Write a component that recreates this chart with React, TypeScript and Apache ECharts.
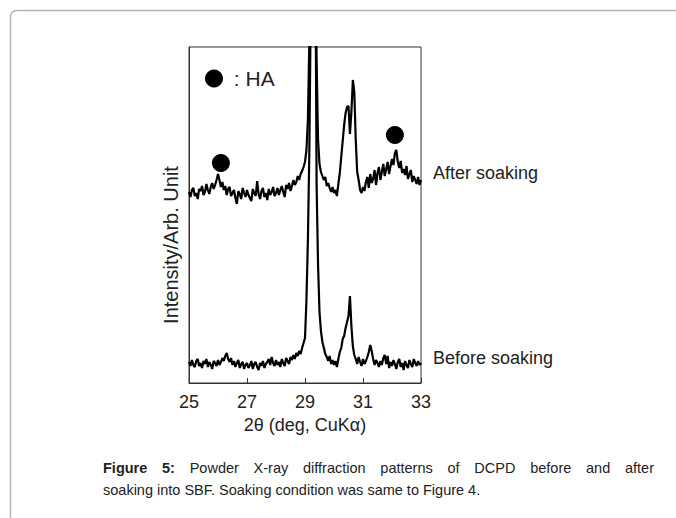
import React, { useEffect, useRef } from "react";
import * as echarts from "echarts";

// 2θ scan positions (deg)
const twoTheta = [
  25.0, 25.05, 25.1, 25.15, 25.2, 25.25, 25.3, 25.35, 25.4, 25.45, 25.5, 25.55, 25.6, 25.65, 25.7, 25.75, 25.8, 25.85, 25.9, 25.95,
  26.0, 26.05, 26.1, 26.15, 26.2, 26.25, 26.3, 26.35, 26.4, 26.45, 26.5, 26.55, 26.6, 26.65, 26.7, 26.75, 26.8, 26.85, 26.9, 26.95,
  27.0, 27.05, 27.1, 27.15, 27.2, 27.25, 27.3, 27.35, 27.4, 27.45, 27.5, 27.55, 27.6, 27.65, 27.7, 27.75, 27.8, 27.85, 27.9, 27.95,
  28.0, 28.05, 28.1, 28.15, 28.2, 28.25, 28.3, 28.35, 28.4, 28.45, 28.5, 28.55, 28.6, 28.65, 28.7, 28.75, 28.8, 28.85, 28.9, 28.95,
  29.0, 29.05, 29.1, 29.15, 29.2, 29.25, 29.3, 29.35, 29.4, 29.45, 29.5, 29.55, 29.6, 29.65, 29.7, 29.75, 29.8, 29.85, 29.9, 29.95,
  30.0, 30.05, 30.1, 30.15, 30.2, 30.25, 30.3, 30.35, 30.4, 30.45, 30.5, 30.55, 30.6, 30.65, 30.7, 30.75, 30.8, 30.85, 30.9, 30.95,
  31.0, 31.05, 31.1, 31.15, 31.2, 31.25, 31.3, 31.35, 31.4, 31.45, 31.5, 31.55, 31.6, 31.65, 31.7, 31.75, 31.8, 31.85, 31.9, 31.95,
  32.0, 32.05, 32.1, 32.15, 32.2, 32.25, 32.3, 32.35, 32.4, 32.45, 32.5, 32.55, 32.6, 32.65, 32.7, 32.75, 32.8, 32.85, 32.9, 32.95,
  33.0,
];

// Intensity (arb. unit) after soaking into SBF
const afterSoaking = [
  191, 186, 193, 195, 187, 190, 184, 194, 192, 197, 188, 191, 199, 193, 189, 196, 200, 194, 198, 203,
  209, 203, 196, 201, 193, 197, 188, 194, 196, 187, 190, 193, 185, 179, 192, 189, 184, 195, 190, 186,
  193, 188, 185, 182, 194, 190, 187, 202, 189, 184, 192, 195, 186, 190, 183, 194, 188, 191, 196, 187,
  190, 195, 188, 193, 197, 191, 186, 198, 194, 200, 192, 197, 203, 198, 201, 207, 203, 209, 212, 216,
  221, 233, 263, 343, 483, 633, 633, 463, 323, 243, 219, 211, 207, 203, 206, 197, 200, 195, 191, 196,
  190, 193, 187, 199, 210, 226, 242, 258, 270, 276, 277, 249, 271, 303, 291, 243, 211, 203, 193, 190,
  196, 192, 201, 206, 195, 209, 200, 204, 213, 198, 210, 216, 203, 211, 219, 207, 214, 221, 209, 217,
  224, 218, 230, 233, 221, 215, 222, 210, 214, 208, 217, 204, 209, 213, 201, 207, 203, 199, 206, 198,
  203,
];

// Intensity (arb. unit) before soaking
const beforeSoaking = [
  21, 17, 23, 18, 16, 22, 24, 17, 20, 15, 22, 19, 24, 16, 21, 18, 14, 22, 20, 17,
  23, 18, 21, 25, 22, 27, 30, 24, 21, 25, 18, 22, 16, 20, 23, 15, 19, 21, 14, 18,
  20, 15, 18, 22, 14, 19, 21, 16, 13, 20, 17, 22, 15, 19, 21, 24, 18, 26, 20, 17,
  23, 18, 21, 16, 24, 20, 17, 25, 22, 19, 26, 23, 28, 24, 30, 27, 32, 29, 35, 40,
  45, 83, 143, 233, 383, 683, 683, 483, 198, 118, 71, 52, 41, 35, 29, 26, 22, 27, 19, 23,
  18, 22, 16, 24, 31, 35, 44, 47, 55, 61, 67, 87, 57, 37, 28, 24, 19, 26, 21, 17,
  24, 19, 22, 26, 31, 38, 32, 24, 18, 23, 20, 16, 22, 18, 25, 28, 19, 27, 15, 21,
  17, 23, 19, 14, 21, 24, 16, 20, 13, 22, 18, 15, 23, 19, 16, 24, 20, 17, 22, 18,
  20,
];

// HA peak markers (2θ, intensity)
const haMarkers = [
  [26.1, 220],
  [32.1, 248],
];

const seriesNames = ["After soaking", "Before soaking"];
const xAxisTitle = "2θ (deg, CuKα)";
const yAxisTitle = "Intensity/Arb. Unit";

const captionLine1 = [
  { t: "Figure", b: true },
  { t: "5:", b: true },
  { t: "Powder", b: false },
  { t: "X-ray", b: false },
  { t: "diffraction", b: false },
  { t: "patterns", b: false },
  { t: "of", b: false },
  { t: "DCPD", b: false },
  { t: "before", b: false },
  { t: "and", b: false },
  { t: "after", b: false },
];
const captionLine2 = "soaking into SBF. Soaking condition was same to Figure 4.";

const FONT = '"Liberation Sans", Arial, sans-serif';

export default function App() {
  const ref = useRef<HTMLDivElement>(null);

  useEffect(() => {
    if (!ref.current) return;
    const chart = echarts.init(ref.current, null, { renderer: "svg" });

    const capSize = 14.5;
    const ctx = document.createElement("canvas").getContext("2d")!;
    const measure = (t: string, b: boolean) => {
      ctx.font = `${b ? "bold " : ""}${capSize}px "Liberation Sans"`;
      return ctx.measureText(t).width;
    };
    const capLeft = 103;
    const capRight = 654;
    const widths = captionLine1.map((w) => measure(w.t, w.b));
    const total = widths.reduce((a, b) => a + b, 0);
    const gap = (capRight - capLeft - total) / (captionLine1.length - 1);
    let cx = capLeft;
    const capTexts: any[] = captionLine1.map((w, i) => {
      const el = {
        type: "text",
        x: cx,
        y: 468,
        style: {
          text: w.t,
          font: `${w.b ? "bold " : ""}${capSize}px ${FONT}`,
          fill: "#222",
          verticalAlign: "middle",
          align: "left",
        },
      };
      cx += widths[i] + gap;
      return el;
    });
    capTexts.push({
      type: "text",
      x: capLeft,
      y: 490,
      style: {
        text: captionLine2,
        font: `${capSize}px ${FONT}`,
        fill: "#222",
        verticalAlign: "middle",
        align: "left",
      },
    });

    const lineSeries = (name: string, vals: number[], dy: number) => ({
      name,
      type: "line",
      data: twoTheta.map((t, i) => [t, vals[i]]),
      showSymbol: false,
      symbol: "none",
      clip: true,
      lineStyle: { color: "#000", width: 2.2 },
      itemStyle: { color: "#000" },
      endLabel: {
        show: true,
        formatter: "{a}",
        distance: 12,
        offset: [0, dy],
        fontSize: 18,
        fontFamily: FONT,
        color: "#222",
      },
      z: 2,
    });

    const option: any = {
      animation: false,
      backgroundColor: "#fff",
      textStyle: { fontFamily: FONT },
      grid: {
        left: 189,
        right: 255,
        top: 47,
        bottom: 135,
        show: true,
        borderColor: "#333",
        borderWidth: 1,
        containLabel: false,
      },
      legend: {
        data: [{ name: "HA", icon: "circle", itemStyle: { color: "#000", opacity: 1 } }],
        left: 205,
        top: 68,
        padding: 0,
        itemWidth: 18,
        itemHeight: 18,
        itemGap: 0,
        selectedMode: false,
        formatter: () => " : HA",
        textStyle: { fontSize: 21, color: "#222", fontFamily: FONT },
      },
      xAxis: {
        type: "value",
        min: 25,
        max: 33,
        interval: 2,
        name: xAxisTitle,
        nameLocation: "middle",
        nameGap: 33,
        nameTextStyle: { fontSize: 18, color: "#222", fontFamily: FONT },
        axisLine: { show: true, lineStyle: { color: "#333", width: 1 } },
        axisTick: { show: true, inside: true, length: 5, lineStyle: { color: "#333" } },
        axisLabel: { fontSize: 18, color: "#222", margin: 10, fontFamily: FONT },
        splitLine: { show: false },
      },
      yAxis: {
        type: "value",
        min: 0,
        max: 336,
        axisLine: { show: true, lineStyle: { color: "#333", width: 1 } },
        axisTick: { show: false },
        axisLabel: { show: false },
        splitLine: { show: false },
      },
      series: [
        lineSeries(seriesNames[0], afterSoaking, -7),
        lineSeries(seriesNames[1], beforeSoaking, -5),
        {
          name: "HA",
          type: "scatter",
          data: haMarkers,
          symbol: "circle",
          symbolSize: 18,
          itemStyle: { color: "#000", opacity: 1 },
          z: 3,
        },
      ],
      graphic: [
        {
          type: "rect",
          shape: { x: 10.5, y: 10.5, width: 700, height: 600, r: [6, 0, 0, 0] },
          style: { fill: "none", stroke: "#b4b4b4", lineWidth: 1.5 },
          silent: true,
        },
        {
          type: "text",
          x: 171,
          y: 245,
          rotation: Math.PI / 2,
          style: {
            text: yAxisTitle,
            font: `20px ${FONT}`,
            fill: "#222",
            align: "center",
            verticalAlign: "middle",
          },
        },
        ...capTexts,
      ],
    };

    chart.setOption(option);
    return () => chart.dispose();
  }, []);

  return (
    <div
      ref={ref}
      style={{ position: "fixed", left: 0, top: 0, width: 676, height: 518, background: "#fff" }}
    />
  );
}
